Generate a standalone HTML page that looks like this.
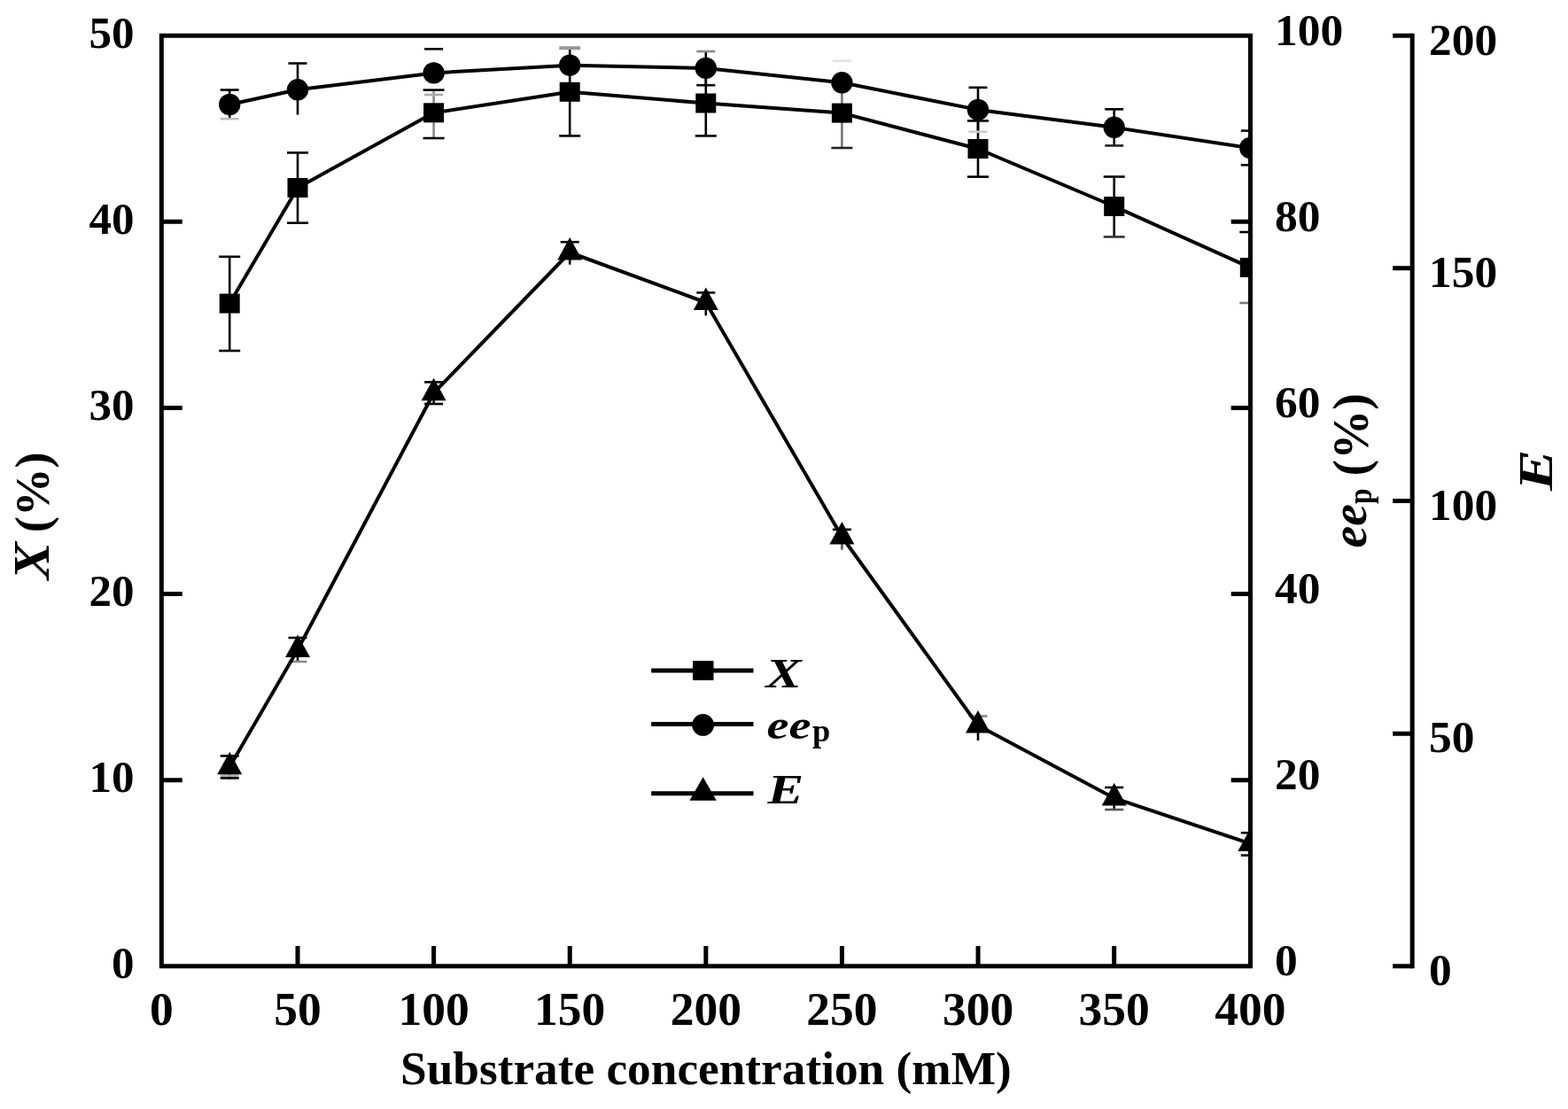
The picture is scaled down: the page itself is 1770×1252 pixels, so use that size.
<!DOCTYPE html><html><head><meta charset="utf-8"><title>Substrate concentration chart</title>
<style>html,body{margin:0;padding:0;background:#fff;}svg{display:block;}text{font-family:"Liberation Serif", "Times New Roman", serif;font-weight:bold;fill:#000;}</style></head><body>
<svg width="1770" height="1252" viewBox="0 0 1770 1252">
<rect width="1770" height="1252" fill="#fff"/>
<defs><clipPath id="pa"><rect x="182" y="0" width="1227" height="1092"/></clipPath></defs>
<g clip-path="url(#pa)">
<path d="M259.2 289.8V396" stroke="#000" stroke-width="2.6"/><path d="M247.2 289.8H271.2" stroke="#000" stroke-width="2.6"/><path d="M247.2 396H271.2" stroke="#000" stroke-width="2.6"/>
<path d="M259.2 101.5V134.2" stroke="#000" stroke-width="2.6"/><path d="M248.7 101.5H269.7" stroke="#000" stroke-width="2.6"/><path d="M248.7 134.2H269.7" stroke="#bbb" stroke-width="2.6"/>
<path d="M259.2 853.4V880" stroke="#000" stroke-width="2.6"/><path d="M248.7 853.4H269.7" stroke="#000" stroke-width="2.6"/><path d="M248.7 878.4H269.7" stroke="#000" stroke-width="2.6"/><path d="M248.7 875.6H269.7" stroke="#aaa" stroke-width="2.6"/>
<path d="M336 172.4V251.7" stroke="#000" stroke-width="2.6"/><path d="M324 172.4H348" stroke="#000" stroke-width="2.6"/><path d="M324 251.7H348" stroke="#000" stroke-width="2.6"/>
<path d="M336 71.5V129.6" stroke="#000" stroke-width="2.6"/><path d="M325.5 71.5H346.5" stroke="#000" stroke-width="2.6"/>
<path d="M336 720V747" stroke="#000" stroke-width="2.6"/><path d="M325.5 720H346.5" stroke="#000" stroke-width="2.6"/><path d="M325.5 747H346.5" stroke="#888" stroke-width="2.6"/>
<path d="M489.6 101.6V156" stroke="#8a8a8a" stroke-width="2.6"/><path d="M477.6 101.6H501.6" stroke="#000" stroke-width="2.6"/><path d="M477.6 156H501.6" stroke="#000" stroke-width="2.6"/>
<path d="M479.1 55.3H500.1" stroke="#000" stroke-width="2.6"/><path d="M479.1 107H500.1" stroke="#aaa" stroke-width="2.6"/>
<path d="M489.6 431.4V456" stroke="#000" stroke-width="2.6"/><path d="M479.1 431.4H500.1" stroke="#000" stroke-width="2.6"/><path d="M479.1 456H500.1" stroke="#000" stroke-width="2.6"/>
<path d="M643.2 54.2V153.4" stroke="#000" stroke-width="2.6"/><path d="M631.2 54.2H655.2" stroke="#999" stroke-width="4"/><path d="M631.2 153.4H655.2" stroke="#000" stroke-width="2.6"/>

<path d="M643.2 273.2V298.7" stroke="#000" stroke-width="2.6"/><path d="M632.7 273.2H653.7" stroke="#000" stroke-width="2.6"/>
<path d="M796.8 80V153.4" stroke="#000" stroke-width="2.6"/><path d="M784.8 153.4H808.8" stroke="#000" stroke-width="2.6"/>
<path d="M796.8 58V96.2" stroke="#000" stroke-width="2.6"/><path d="M786.3 58H807.3" stroke="#888" stroke-width="2.6"/><path d="M786.3 96.2H807.3" stroke="#000" stroke-width="2.6"/>
<path d="M796.8 330.4V356.3" stroke="#000" stroke-width="2.6"/><path d="M786.3 330.4H807.3" stroke="#000" stroke-width="2.6"/>
<path d="M950.4 88V167" stroke="#777" stroke-width="2.6"/><path d="M938.4 167H962.4" stroke="#222" stroke-width="2.6"/>
<path d="M939.9 68.7H960.9" stroke="#e0e0e0" stroke-width="2.6"/>
<path d="M950.4 597.8V620.7" stroke="#555" stroke-width="2.6"/><path d="M939.9 597.8H960.9" stroke="#000" stroke-width="2.6"/>
<path d="M1104 136.4V199.6" stroke="#000" stroke-width="2.6"/><path d="M1092 136.4H1116" stroke="#000" stroke-width="2.6"/><path d="M1092 199.6H1116" stroke="#000" stroke-width="2.6"/>
<path d="M1104 98.8V148.8" stroke="#000" stroke-width="2.6"/><path d="M1093.5 98.8H1114.5" stroke="#000" stroke-width="2.6"/><path d="M1093.5 148.8H1114.5" stroke="#ccc" stroke-width="2.6"/>
<path d="M1104 808.5V836" stroke="#000" stroke-width="2.6"/><path d="M1093.5 808.5H1114.5" stroke="#888" stroke-width="2.6"/>
<path d="M1257.7 199.5V267.4" stroke="#000" stroke-width="2.6"/><path d="M1245.7 199.5H1269.7" stroke="#000" stroke-width="2.6"/><path d="M1245.7 267.4H1269.7" stroke="#333" stroke-width="2.6"/>
<path d="M1257.7 123.3V164.4" stroke="#000" stroke-width="2.6"/><path d="M1247.2 123.3H1268.2" stroke="#000" stroke-width="2.6"/><path d="M1247.2 164.4H1268.2" stroke="#222" stroke-width="2.6"/>
<path d="M1257.7 889V914" stroke="#000" stroke-width="2.6"/><path d="M1247.2 889H1268.2" stroke="#000" stroke-width="2.6"/><path d="M1247.2 914H1268.2" stroke="#555" stroke-width="2.6"/>
<path d="M1411.3 262V342" stroke="#000" stroke-width="2.6"/><path d="M1399.3 262H1423.3" stroke="#000" stroke-width="2.6"/><path d="M1399.3 342H1423.3" stroke="#777" stroke-width="2.6"/>
<path d="M1411.3 147.6V186.3" stroke="#000" stroke-width="2.6"/><path d="M1400.8 147.6H1421.8" stroke="#000" stroke-width="2.6"/><path d="M1400.8 186.3H1421.8" stroke="#000" stroke-width="2.6"/>
<path d="M1411.3 940.2V965.6" stroke="#000" stroke-width="2.6"/><path d="M1400.8 940.2H1421.8" stroke="#000" stroke-width="2.6"/><path d="M1400.8 965.6H1421.8" stroke="#000" stroke-width="2.6"/>
<polyline points="259.2,342.6 336,212 489.6,127.3 643.2,103.8 796.8,116.5 950.4,127.6 1104,168 1257.7,233 1411.3,302" fill="none" stroke="#000" stroke-width="4.0" stroke-linejoin="round"/>
<polyline points="259.2,118 336,101.3 489.6,82.4 643.2,73.7 796.8,76.9 950.4,93.3 1104,123.9 1257.7,143.8 1411.3,167" fill="none" stroke="#000" stroke-width="4.0" stroke-linejoin="round"/>
<polyline points="259.2,865.7 336,733.5 489.6,443.7 643.2,285 796.8,341.5 950.4,606 1104,819 1257.7,901 1411.3,952.5" fill="none" stroke="#000" stroke-width="4.0" stroke-linejoin="round"/>
<rect x="247.7" y="331.6" width="23" height="22" fill="#000"/>
<rect x="324.5" y="201" width="23" height="22" fill="#000"/>
<rect x="478.1" y="116.3" width="23" height="22" fill="#000"/>
<rect x="631.7" y="92.8" width="23" height="22" fill="#000"/>
<rect x="785.3" y="105.5" width="23" height="22" fill="#000"/>
<rect x="938.9" y="116.6" width="23" height="22" fill="#000"/>
<rect x="1092.5" y="157" width="23" height="22" fill="#000"/>
<rect x="1246.2" y="222" width="23" height="22" fill="#000"/>
<rect x="1399.8" y="291" width="23" height="22" fill="#000"/>
<circle cx="259.2" cy="118" r="12.2" fill="#000"/>
<circle cx="336" cy="101.3" r="12.2" fill="#000"/>
<circle cx="489.6" cy="82.4" r="12.2" fill="#000"/>
<circle cx="643.2" cy="73.7" r="12.2" fill="#000"/>
<circle cx="796.8" cy="76.9" r="12.2" fill="#000"/>
<circle cx="950.4" cy="93.3" r="12.2" fill="#000"/>
<circle cx="1104" cy="123.9" r="12.2" fill="#000"/>
<circle cx="1257.7" cy="143.8" r="12.2" fill="#000"/>
<circle cx="1411.3" cy="167" r="12.2" fill="#000"/>
<polygon points="259.2,848.7 273.2,874.2 245.2,874.2" fill="#000"/>
<polygon points="336,716.5 350,742 322,742" fill="#000"/>
<polygon points="489.6,426.7 503.6,452.2 475.6,452.2" fill="#000"/>
<polygon points="643.2,268 657.2,293.5 629.2,293.5" fill="#000"/>
<polygon points="796.8,324.5 810.8,350 782.8,350" fill="#000"/>
<polygon points="950.4,589 964.4,614.5 936.4,614.5" fill="#000"/>
<polygon points="1104,802 1118,827.5 1090,827.5" fill="#000"/>
<polygon points="1257.7,884 1271.7,909.5 1243.7,909.5" fill="#000"/>
<polygon points="1411.3,935.5 1425.3,961 1397.3,961" fill="#000"/>
</g>
<path d="M179.8 40.2H1414M182.3 37.7V1093.3M179.8 1090.8H1414M1411.5 37.7V1093.3" stroke="#000" stroke-width="5" fill="none"/>
<path d="M1594.2 37.7V1093.3" stroke="#000" stroke-width="5" fill="none"/>
<path d="M182.3 250.32H205.7M1411.5 250.32H1389.7M182.3 460.44H205.7M1411.5 460.44H1389.7M182.3 670.56H205.7M1411.5 670.56H1389.7M182.3 880.68H205.7M1411.5 880.68H1389.7M1594.2 40.2H1572.2M1594.2 302.85H1572.2M1594.2 565.5H1572.2M1594.2 828.15H1572.2M1594.2 1090.8H1572.2M336.01 1090.8V1068M489.62 1090.8V1068M643.23 1090.8V1068M796.84 1090.8V1068M950.45 1090.8V1068M1104.06 1090.8V1068M1257.67 1090.8V1068" stroke="#000" stroke-width="5" fill="none"/>
<text x="151.5" y="54" font-size="51" text-anchor="end">50</text>
<text x="151.5" y="264" font-size="51" text-anchor="end">40</text>
<text x="151.5" y="474" font-size="51" text-anchor="end">30</text>
<text x="151.5" y="684" font-size="51" text-anchor="end">20</text>
<text x="151.5" y="894" font-size="51" text-anchor="end">10</text>
<text x="151.5" y="1104" font-size="51" text-anchor="end">0</text>
<text x="1439" y="51" font-size="51.5">100</text>
<text x="1439" y="261" font-size="51.5">80</text>
<text x="1439" y="471" font-size="51.5">60</text>
<text x="1439" y="681" font-size="51.5">40</text>
<text x="1439" y="891" font-size="51.5">20</text>
<text x="1439" y="1101" font-size="51.5">0</text>
<text x="1613" y="61.6" font-size="51.5">200</text>
<text x="1613" y="324.1" font-size="51.5">150</text>
<text x="1613" y="586.6" font-size="51.5">100</text>
<text x="1613" y="849.1" font-size="51.5">50</text>
<text x="1613" y="1111.6" font-size="51.5">0</text>
<text x="182.4" y="1157.4" font-size="53.5" text-anchor="middle">0</text>
<text x="336.01" y="1157.4" font-size="53.5" text-anchor="middle">50</text>
<text x="489.62" y="1157.4" font-size="53.5" text-anchor="middle">100</text>
<text x="643.23" y="1157.4" font-size="53.5" text-anchor="middle">150</text>
<text x="796.84" y="1157.4" font-size="53.5" text-anchor="middle">200</text>
<text x="950.45" y="1157.4" font-size="53.5" text-anchor="middle">250</text>
<text x="1104.06" y="1157.4" font-size="53.5" text-anchor="middle">300</text>
<text x="1257.67" y="1157.4" font-size="53.5" text-anchor="middle">350</text>
<text x="1411.28" y="1157.4" font-size="53.5" text-anchor="middle">400</text>
<text x="796.9" y="1224.2" font-size="53.3" text-anchor="middle">Substrate concentration (mM)</text>
<text transform="translate(55,654.6) rotate(-90) scale(1.11,1)" font-size="57.5" font-style="italic">X</text>
<text transform="translate(54.6,601.2) rotate(-90)" font-size="54.5">(%)</text>
<text transform="translate(1542,618.5) rotate(-90)" font-size="56" font-style="italic">ee</text>
<text transform="translate(1547.8,569) rotate(-90) scale(0.82,1)" font-size="38.5">p</text>
<text transform="translate(1544.4,537.5) rotate(-90)" font-size="56">(%)</text>
<text transform="translate(1752,554) rotate(-90) scale(1.264,1)" font-size="55" font-style="italic">E</text>
<path d="M735.2 757H850.5M735.2 817.6H850.5M735.2 895.7H850.5" stroke="#000" stroke-width="5" fill="none"/>
<rect x="782" y="746" width="23.5" height="22" fill="#000"/>
<circle cx="793.6" cy="818.4" r="12.4" fill="#000"/>
<polygon points="793.6,877.2 808.8,903.7 778.4,903.7" fill="#000"/>
<text transform="translate(864.5,775.7) scale(1.3,1)" font-size="46.4" font-style="italic">X</text>
<text transform="translate(865.5,834) scale(1.2,1)" font-size="47" font-style="italic">ee</text>
<text transform="translate(917,837.4)" font-size="36.4">p</text>
<text transform="translate(866.5,906.9) scale(1.3,1)" font-size="47" font-style="italic">E</text>
</svg></body></html>
